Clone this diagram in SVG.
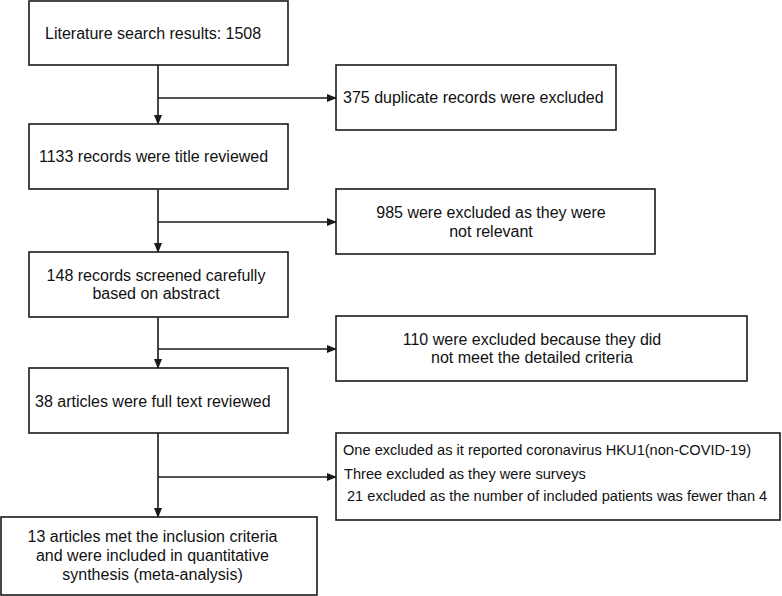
<svg xmlns="http://www.w3.org/2000/svg" width="782" height="596" viewBox="0 0 782 596">
<defs>
<marker id="ah" markerWidth="10" markerHeight="8" refX="9" refY="4" orient="auto" markerUnits="userSpaceOnUse">
<path d="M0,0 L10,4 L0,8 Z" fill="#1a1a1a"/>
</marker>
<style>
.box{fill:#fff;stroke:#1a1a1a;stroke-width:1.6}
.t{font-family:"Liberation Sans",Arial,sans-serif;font-size:16px;fill:#111}
.s{font-size:14.6px}
.c{text-anchor:middle}
.ln{fill:none;stroke:#1a1a1a;stroke-width:1.6}
</style>
</defs>
<rect width="782" height="596" fill="#fff"/>
<g id="connectors">
<line class="ln" x1="158" y1="65" x2="158" y2="124" marker-end="url(#ah)"/>
<line class="ln" x1="158" y1="98" x2="336" y2="98" marker-end="url(#ah)"/>
<line class="ln" x1="158" y1="189" x2="158" y2="252" marker-end="url(#ah)"/>
<line class="ln" x1="158" y1="222" x2="336" y2="222" marker-end="url(#ah)"/>
<line class="ln" x1="158" y1="317" x2="158" y2="368" marker-end="url(#ah)"/>
<line class="ln" x1="158" y1="349" x2="336" y2="349" marker-end="url(#ah)"/>
<line class="ln" x1="158" y1="433" x2="158" y2="517" marker-end="url(#ah)"/>
<line class="ln" x1="158" y1="477" x2="336" y2="477" marker-end="url(#ah)"/>
</g>
<g id="n1">
<rect class="box" x="29" y="1" width="259" height="64"/>
<text class="t" x="45" y="39">Literature search results: 1508</text>
</g>
<g id="n2">
<rect class="box" x="336" y="65" width="280" height="65"/>
<text class="t" x="343" y="103">375 duplicate records were excluded</text>
</g>
<g id="n3">
<rect class="box" x="29" y="124" width="259" height="65"/>
<text class="t" x="39" y="162">1133 records were title reviewed</text>
</g>
<g id="n4">
<rect class="box" x="336" y="189" width="319" height="65"/>
<text class="t c" x="491" y="218">985 were excluded as they were</text>
<text class="t c" x="491" y="237">not relevant</text>
</g>
<g id="n5">
<rect class="box" x="29" y="252" width="259" height="65"/>
<text class="t c" x="156" y="281">148 records screened carefully</text>
<text class="t c" x="156" y="299">based on abstract</text>
</g>
<g id="n6">
<rect class="box" x="336" y="316" width="411" height="65"/>
<text class="t c" x="532" y="345">110 were excluded because they did</text>
<text class="t c" x="532" y="363">not meet the detailed criteria</text>
</g>
<g id="n7">
<rect class="box" x="29" y="368" width="259" height="65"/>
<text class="t" x="35" y="407">38 articles were full text reviewed</text>
</g>
<g id="n8">
<rect class="box" x="336" y="433" width="444" height="87"/>
<text class="t s" x="343" y="455">One excluded as it reported coronavirus HKU1(non-COVID-19)</text>
<text class="t s" x="344" y="479">Three excluded as they were surveys</text>
<text class="t s" x="347" y="501">21 excluded as the number of included patients was fewer than 4</text>
</g>
<g id="n9">
<rect class="box" x="1" y="517" width="316" height="78"/>
<text class="t c" x="152.5" y="542">13 articles met the inclusion criteria</text>
<text class="t c" x="152.5" y="561">and were included in quantitative</text>
<text class="t c" x="152.5" y="580">synthesis (meta-analysis)</text>
</g>
</svg>
